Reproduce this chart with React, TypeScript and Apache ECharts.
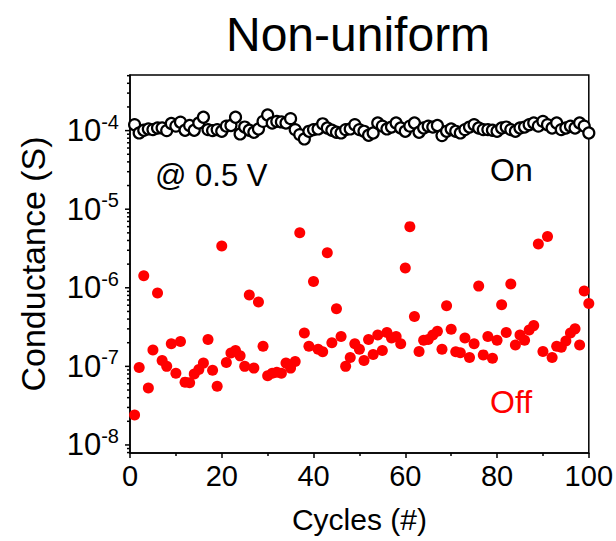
import React, { useEffect, useRef } from "react";
import * as echarts from "echarts";

const cycles: number[] = Array.from({ length: 100 }, (_, i) => i + 1);

// On-state conductance (S)
const onValues: number[] = [
  1.19e-4, 0.934e-4, 1.01e-4, 1.05e-4, 1.03e-4, 1.08e-4, 1.08e-4, 1.0e-4, 1.23e-4, 1.14e-4,
  1.28e-4, 1.01e-4, 1.16e-4, 1.01e-4, 1.25e-4, 1.48e-4, 1.03e-4, 1.0e-4, 1.03e-4, 0.98e-4,
  1.14e-4, 1.16e-4, 1.48e-4, 0.907e-4, 1.11e-4, 1.01e-4, 0.952e-4, 1.05e-4, 1.31e-4, 1.58e-4,
  1.25e-4, 1.31e-4, 1.29e-4, 1.25e-4, 1.42e-4, 1.03e-4, 0.889e-4, 0.783e-4, 0.98e-4, 1.03e-4,
  1.05e-4, 1.22e-4, 1.08e-4, 1.01e-4, 0.952e-4, 0.934e-4, 1.03e-4, 1.05e-4, 1.19e-4, 1.03e-4,
  0.98e-4, 0.872e-4, 0.934e-4, 1.25e-4, 1.14e-4, 1.05e-4, 1.11e-4, 1.25e-4, 1.08e-4, 0.98e-4,
  1.14e-4, 1.25e-4, 0.952e-4, 1.08e-4, 1.14e-4, 1.11e-4, 1.16e-4, 0.864e-4, 0.98e-4, 1.05e-4,
  0.98e-4, 0.934e-4, 1.03e-4, 1.11e-4, 1.19e-4, 1.08e-4, 1.03e-4, 1.03e-4, 1.01e-4, 0.98e-4,
  1.08e-4, 1.11e-4, 1.03e-4, 0.98e-4, 1.08e-4, 1.11e-4, 1.19e-4, 1.25e-4, 1.14e-4, 1.31e-4,
  1.19e-4, 1.08e-4, 1.25e-4, 1.03e-4, 1.08e-4, 1.14e-4, 1.08e-4, 1.25e-4, 1.14e-4, 0.934e-4,
];

// Off-state conductance (S)
const offValues: number[] = [
  2.4e-8, 9.7e-8, 1.42e-6, 5.3e-8, 1.62e-7, 8.6e-7, 1.19e-7, 1.0e-7, 1.94e-7, 8.2e-8,
  2.07e-7, 6.3e-8, 6.2e-8, 8.0e-8, 9.1e-8, 1.1e-7, 2.2e-7, 8.9e-8, 5.6e-8, 3.4e-6,
  1.12e-7, 1.48e-7, 1.59e-7, 1.36e-7, 1.0e-7, 8.1e-7, 9.5e-8, 6.6e-7, 1.8e-7, 7.6e-8,
  8.2e-8, 8.4e-8, 8.2e-8, 1.1e-7, 9.5e-8, 1.15e-7, 5.0e-6, 2.65e-7, 1.8e-7, 1.2e-6,
  1.65e-7, 1.53e-7, 2.8e-6, 2.0e-7, 5.4e-7, 2.4e-7, 1.0e-7, 1.3e-7, 1.94e-7, 1.65e-7,
  1.19e-7, 2.2e-7, 1.42e-7, 2.5e-7, 1.59e-7, 2.7e-7, 2.3e-7, 2.4e-7, 1.94e-7, 1.78e-6,
  6.0e-6, 4.3e-7, 1.55e-7, 2.15e-7, 2.2e-7, 2.5e-7, 2.8e-7, 1.65e-7, 5.9e-7, 2.97e-7,
  1.53e-7, 1.49e-7, 2.3e-7, 1.3e-7, 1.94e-7, 1.05e-6, 1.4e-7, 2.4e-7, 1.27e-7, 2.15e-7,
  6.1e-7, 2.7e-7, 1.12e-6, 1.87e-7, 2.5e-7, 2.15e-7, 2.9e-7, 3.3e-7, 3.6e-6, 1.55e-7,
  4.5e-6, 1.3e-7, 1.8e-7, 1.75e-7, 2.1e-7, 2.65e-7, 3.0e-7, 1.87e-7, 9.1e-7, 6.3e-7,
];

const majorExponents: number[] = [-8, -7, -6, -5, -4];
const minorMultipliers: number[] = [2, 3, 4, 5, 6, 7, 8, 9];
const minorDecades: number[] = [-9, -8, -7, -6, -5, -4];

const X_MIN = 0;
const X_MAX = 100;
const Y_MIN = 7.9e-9;
const Y_MAX = 5.1e-4;

const FONT = "'Liberation Sans', Arial, Helvetica, sans-serif";

export default function App() {
  const ref = useRef<HTMLDivElement>(null);

  useEffect(() => {
    if (!ref.current) return;
    const chart = echarts.init(ref.current, undefined, { renderer: "svg" });

    const tickData: number[][] = [];
    majorExponents.forEach((e) => tickData.push([X_MIN, Math.pow(10, e), 5]));
    minorDecades.forEach((e) =>
      minorMultipliers.forEach((m) => {
        const v = m * Math.pow(10, e);
        if (v > Y_MIN && v < Y_MAX) tickData.push([X_MIN, v, 3]);
      })
    );

    const option: any = {
      animation: false,
      backgroundColor: "#fff",
      title: {
        text: "Non-uniform",
        left: 221,
        top: 5,
        textStyle: { fontFamily: FONT, fontSize: 48, fontWeight: "normal", color: "#000" },
      },
      grid: {
        left: 130,
        right: 24,
        top: 75,
        bottom: 88,
        show: true,
        borderColor: "#000",
        borderWidth: 1.5,
        backgroundColor: "transparent",
      },
      xAxis: {
        type: "value",
        min: X_MIN,
        max: X_MAX,
        interval: 20,
        name: "Cycles (#)",
        nameLocation: "middle",
        nameGap: 51,
        nameTextStyle: { fontFamily: FONT, fontSize: 30, color: "#000" },
        axisLine: { show: true, lineStyle: { color: "#000", width: 1.5 } },
        axisTick: { show: true, inside: false, length: 5, lineStyle: { color: "#000", width: 1.5 } },
        minorTick: { show: true, splitNumber: 2, length: 3, lineStyle: { color: "#000", width: 1.5 } },
        splitLine: { show: false },
        axisLabel: { fontFamily: FONT, fontSize: 29, color: "#000", margin: 8 },
      },
      yAxis: {
        type: "log",
        logBase: 10,
        min: Y_MIN,
        max: Y_MAX,
        name: "Conductance (S)",
        nameLocation: "middle",
        nameGap: 80,
        nameTextStyle: { fontFamily: FONT, fontSize: 34, color: "#000" },
        axisLine: { show: true, lineStyle: { color: "#000", width: 1.5 } },
        axisTick: { show: false },
        splitLine: { show: false },
        axisLabel: {
          showMinLabel: false,
          showMaxLabel: false,
          margin: 11,
          formatter: (v: number) => {
            const e = Math.round(Math.log10(v));
            return `{b|10}{s|${e}}`;
          },
          rich: {
            b: { fontFamily: FONT, fontSize: 31, color: "#000" },
            s: { fontFamily: FONT, fontSize: 20, color: "#000", padding: [0, 0, 18, 0] },
          },
        },
      },
      series: [
        {
          type: "custom",
          silent: true,
          clip: false,
          encode: { x: 0, y: 1 },
          data: tickData,
          renderItem: (params: any, api: any) => {
            const v = api.value(1);
            const len = api.value(2);
            const p = api.coord([X_MIN, v]);
            return {
              type: "line",
              shape: { x1: p[0] - len, y1: p[1], x2: p[0], y2: p[1] },
              style: { stroke: "#000", lineWidth: 1.5 },
            };
          },
          z: 3,
        },
        {
          name: "On",
          type: "scatter",
          symbol: "circle",
          symbolSize: 11,
          itemStyle: { color: "#fff", borderColor: "#000", borderWidth: 2.2, opacity: 1 },
          data: cycles.map((c, i) => [c, onValues[i]]),
          z: 4,
        },
        {
          name: "Off",
          type: "scatter",
          symbol: "circle",
          symbolSize: 11,
          itemStyle: { color: "#ff0000", opacity: 1 },
          data: cycles.map((c, i) => [c, offValues[i]]),
          z: 5,
        },
      ],
      graphic: [
        {
          type: "text",
          x: 155,
          y: 175,
          style: {
            text: "@ 0.5 V",
            fill: "#000",
            font: `31px ${FONT}`,
            align: "left",
            verticalAlign: "middle",
            textAlign: "left",
            textVerticalAlign: "middle",
          },
        },
        {
          type: "text",
          x: 490,
          y: 170,
          style: {
            text: "On",
            fill: "#000",
            font: `32px ${FONT}`,
            align: "left",
            verticalAlign: "middle",
            textAlign: "left",
            textVerticalAlign: "middle",
          },
        },
        {
          type: "text",
          x: 490,
          y: 402,
          style: {
            text: "Off",
            fill: "#ff0000",
            font: `32px ${FONT}`,
            align: "left",
            verticalAlign: "middle",
            textAlign: "left",
            textVerticalAlign: "middle",
          },
        },
      ],
    };

    chart.setOption(option);
    return () => chart.dispose();
  }, []);

  return (
    <div
      ref={ref}
      style={{ position: "absolute", left: 0, top: 0, width: 616, height: 541 }}
    />
  );
}
